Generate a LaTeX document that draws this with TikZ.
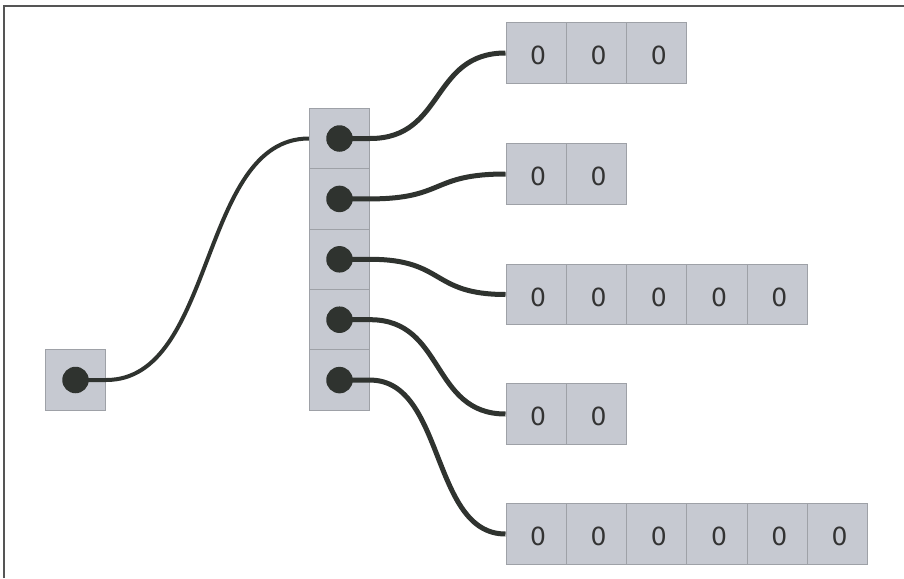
\documentclass[tikz,border=0pt]{standalone}
\usepackage{fontspec}
\setmainfont{DejaVu Sans}
\definecolor{cellfill}{HTML}{C6C9D1}
\definecolor{celledge}{HTML}{9EA1A7}
\definecolor{ink}{HTML}{2F332F}
\definecolor{txt}{HTML}{333333}
\definecolor{frame}{HTML}{555555}
\begin{document}
\begin{tikzpicture}[x=1pt,y=-1pt,
  cell/.style={draw=celledge, fill=cellfill, line width=1pt, minimum size=60.3pt, inner sep=0pt},
  zero/.style={font=\fontsize{25}{25}\selectfont, text=txt, inner sep=0pt, xshift=2pt, yshift=-2.5pt},
  dot/.style={circle, fill=ink, minimum size=26.5pt, inner sep=0pt},
  link/.style={draw=ink, line width=5pt},
  thinlink/.style={draw=ink, line width=4pt}]
\useasboundingbox (0,0) rectangle (904,578);
\draw[line width=1.5pt, draw=frame] (4,578) -- (4,6) -- (904,6);
% cells
\node[cell] (L) at (75.5,380) {};
\foreach \i in {1,...,5} \node[cell] (m\i) at (339.5,{138.5+60.4*(\i-1)}) {};
\foreach \r/\y/\n in {1/53/3, 2/174/2, 3/294.5/5, 4/414/2, 5/534/6} {
  \foreach \k in {1,...,\n} \node[cell, label={[zero]center:0}] (a\r-\k) at ({536.15+60.3*(\k-1)},\y) {};
}
% connectors
\draw[thinlink] (L.center) -- (L.east) .. controls +(110,0) and +(-110,0) .. (m1.west);
\foreach \i in {1,...,5}
  \draw[link] (m\i.center) -- (m\i.east) .. controls +(75,0) and +(-75,0) .. (a\i-1.west);
% dots
\node[dot] (dL) at (L.center) {};
\foreach \i in {1,...,5} \node[dot] (d\i) at (m\i.center) {};
\end{tikzpicture}
\end{document}
